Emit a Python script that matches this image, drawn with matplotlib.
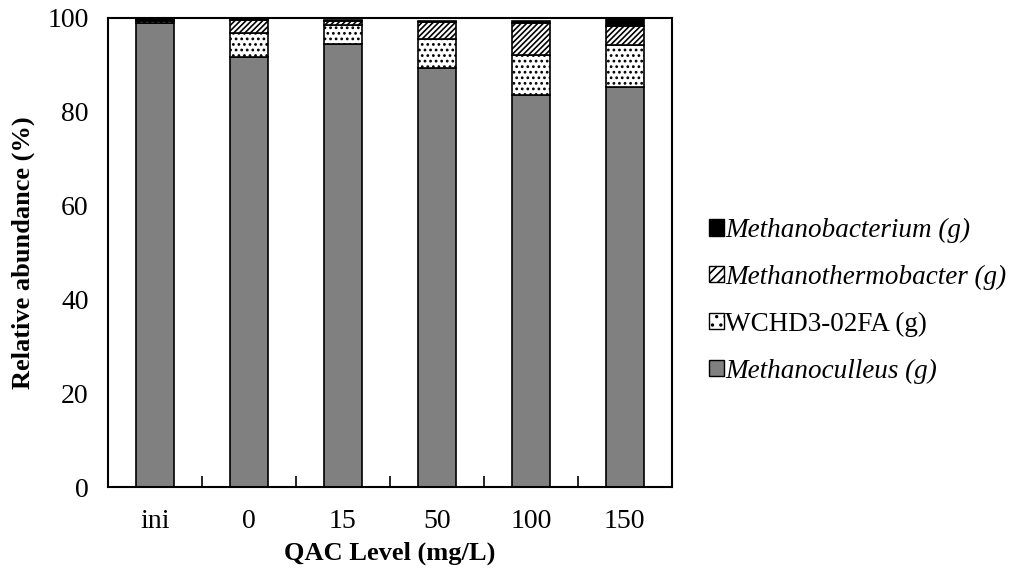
import numpy as np
import matplotlib
matplotlib.use('Agg')
import matplotlib.pyplot as plt
from matplotlib.patches import Patch

plt.rcParams['font.family'] = ['Liberation Serif', 'DejaVu Serif']
plt.rcParams['hatch.linewidth'] = 1.2

levels = ['ini', '0', '15', '50', '100', '150']
methanoculleus = [99.0, 91.7, 94.4, 89.3, 83.6, 85.3]
wchd3 = [0.4, 5.0, 4.1, 6.3, 8.5, 8.9]
methanothermobacter = [0.2, 2.9, 0.9, 3.6, 6.8, 4.1]
methanobacterium = [0.1, 0.1, 0.1, 0.1, 0.5, 1.5]

x = np.arange(len(levels))
w = 0.4

fig = plt.figure(figsize=(10.14, 5.75), dpi=100)
ax = fig.add_axes([0.1065, 0.153, 0.556, 0.8157])

b1 = np.array(methanoculleus)
b2 = b1 + np.array(wchd3)
b3 = b2 + np.array(methanothermobacter)

ax.bar(x, methanoculleus, w, color='#808080', edgecolor='black', linewidth=1.2)
ax.bar(x, wchd3, w, bottom=b1, color='white', edgecolor='black', hatch='...', linewidth=1.2)
ax.bar(x, methanothermobacter, w, bottom=b2, color='white', edgecolor='black', hatch='//////', linewidth=1.2)
ax.bar(x, methanobacterium, w, bottom=b3, color='black', edgecolor='black', linewidth=1.2)

ax.set_xlim(-0.5, len(levels) - 0.5)
ax.set_ylim(0, 100)
ax.set_yticks([0, 20, 40, 60, 80, 100])
ax.set_xticks(x)
ax.set_xticklabels(levels)
ax.set_xticks(np.arange(0.5, len(levels) - 0.5, 1), minor=True)
ax.tick_params(axis='x', which='major', length=0, labelsize=20, pad=16)
ax.tick_params(axis='x', which='minor', direction='in', length=8, width=1.2)
ax.tick_params(axis='y', length=0, labelsize=20, pad=14)
for s in ax.spines.values():
    s.set_linewidth(1.5)

ax.set_xlabel('QAC Level (mg/L)', fontsize=19, fontweight='bold', labelpad=5)
ax.set_ylabel('Relative abundance (%)', fontsize=19, fontweight='bold', labelpad=9)

handles = [
    Patch(facecolor='black', edgecolor='black', label='Methanobacterium (g)'),
    Patch(facecolor='white', edgecolor='black', hatch='////', label='Methanothermobacter (g)'),
    Patch(facecolor='white', edgecolor='black', hatch='..', label='WCHD3-02FA (g)'),
    Patch(facecolor='#808080', edgecolor='black', label='Methanoculleus (g)'),
]
leg = fig.legend(handles=handles, loc='center left', bbox_to_anchor=(0.699, 0.477),
                 frameon=False, fontsize=19.5, handlelength=0.55, handleheight=0.55,
                 handletextpad=0.05, labelspacing=0.8, borderpad=0, borderaxespad=0)
for t in leg.get_texts():
    if not t.get_text().startswith('WCHD3'):
        t.set_style('italic')

fig.savefig('out.png', dpi=100)
